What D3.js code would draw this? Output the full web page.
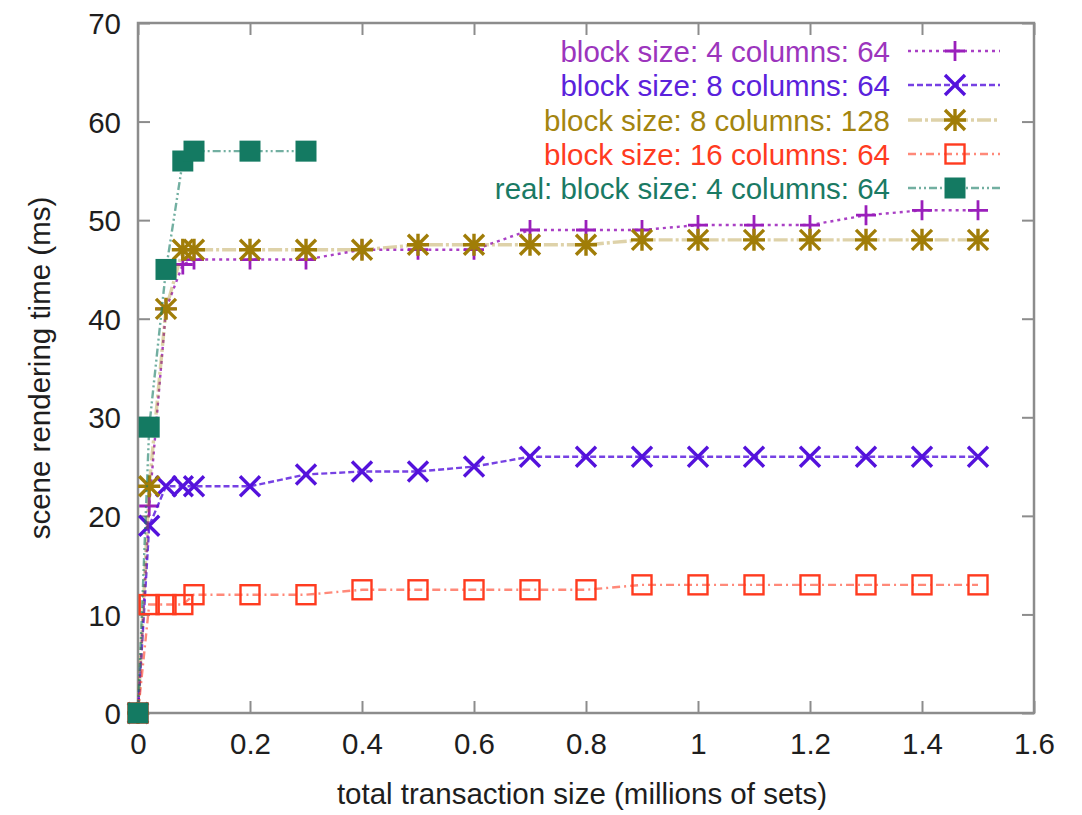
<!DOCTYPE html>
<html>
<head>
<meta charset="utf-8">
<script src="https://cdn.jsdelivr.net/npm/d3@7"></script>
<style>
  html, body { margin: 0; padding: 0; background: #fff; }
  svg text { font-family: "Liberation Sans", Arial, Helvetica, sans-serif; }
</style>
</head>
<body>
<svg id="chart" width="1082" height="815"></svg>
<script>
// Transaction sizes (millions of sets) at which each configuration was measured
const sizesFull = [0, 0.02, 0.05, 0.08, 0.1, 0.2, 0.3, 0.4, 0.5, 0.6, 0.7, 0.8, 0.9, 1.0, 1.1, 1.2, 1.3, 1.4, 1.5];
const sizesReal = [0, 0.02, 0.05, 0.08, 0.1, 0.2, 0.3];

// Scene rendering time (ms)
const block4col64  = [0, 21, 41, 45.5, 46, 46, 46, 47, 47, 47, 49, 49, 49, 49.5, 49.5, 49.5, 50.5, 51, 51];
const block8col64  = [0, 19, 23, 23, 23, 23, 24.2, 24.5, 24.5, 25, 26, 26, 26, 26, 26, 26, 26, 26, 26];
const block8col128 = [0, 23, 41, 47, 47, 47, 47, 47, 47.5, 47.5, 47.5, 47.5, 48, 48, 48, 48, 48, 48, 48];
const block16col64 = [0, 11, 11, 11, 12, 12, 12, 12.5, 12.5, 12.5, 12.5, 12.5, 13, 13, 13, 13, 13, 13, 13];
const realBlock4col64 = [0, 29, 45, 56, 57, 57, 57];

const seriesNames = [
  "block size: 4 columns: 64",
  "block size: 8 columns: 64",
  "block size: 8 columns: 128",
  "block size: 16 columns: 64",
  "real: block size: 4 columns: 64"
];

const xTicks = [0, 0.2, 0.4, 0.6, 0.8, 1, 1.2, 1.4, 1.6];
const yTicks = [0, 10, 20, 30, 40, 50, 60, 70];

const xTitle = "total transaction size (millions of sets)";
const yTitle = "scene rendering time (ms)";

// Visual styling per series
const styles = [
  { color: "#9a1fbb", text: "#9c35bd", dash: "3,4",         marker: "plus",    lineWidth: 2.4, lineOpacity: 0.85 },
  { color: "#5412dc", text: "#5a22dc", dash: "6,3",         marker: "cross",   lineWidth: 2.4, lineOpacity: 0.8 },
  { color: "#a07d08", text: "#a4850f", dash: "14,3,3,3",    marker: "star",    lineWidth: 3.4, lineOpacity: 0.35 },
  { color: "#ff3b1f", text: "#ff3b1f", dash: "8,4,2,4",     marker: "square",  lineWidth: 2.4, lineOpacity: 0.6 },
  { color: "#147a62", text: "#1a7a64", dash: "8,3,2,3,2,3", marker: "fsquare", lineWidth: 2.4, lineOpacity: 0.6 }
];

const seriesData = [
  { xs: sizesFull, ys: block4col64 },
  { xs: sizesFull, ys: block8col64 },
  { xs: sizesFull, ys: block8col128 },
  { xs: sizesFull, ys: block16col64 },
  { xs: sizesReal, ys: realBlock4col64 }
];

const svg = d3.select("#chart");
const plot = { left: 138, right: 1034, top: 23, bottom: 713 };

const x = d3.scaleLinear().domain([0, 1.6]).range([plot.left, plot.right]);
const y = d3.scaleLinear().domain([0, 70]).range([plot.bottom, plot.top]);

const axisColor = "#8c8c8c";
const textColor = "#1e1e1e";
const fontSize = 29.5;
const tickLen = 12;

// Axes: ticks point inward and are mirrored on the opposite side
const gx = svg.append("g").attr("transform", `translate(0,${plot.bottom})`)
  .call(d3.axisBottom(x).tickValues(xTicks).tickSize(-tickLen).tickPadding(0).tickFormat(d3.format("")));
const gxTop = svg.append("g").attr("transform", `translate(0,${plot.top})`)
  .call(d3.axisTop(x).tickValues(xTicks).tickSize(-tickLen).tickFormat(""));
const gy = svg.append("g").attr("transform", `translate(${plot.left},0)`)
  .call(d3.axisLeft(y).tickValues(yTicks).tickSize(-tickLen).tickPadding(0));
const gyRight = svg.append("g").attr("transform", `translate(${plot.right},0)`)
  .call(d3.axisRight(y).tickValues(yTicks).tickSize(-tickLen).tickFormat(""));

[gx, gxTop, gy, gyRight].forEach(g => {
  g.select(".domain").remove();
  g.selectAll(".tick line").attr("stroke", axisColor).attr("stroke-width", 2);
});

gx.selectAll(".tick text")
  .attr("y", 0).attr("dy", null)
  .attr("transform", "translate(0,41)")
  .attr("font-size", fontSize).attr("fill", textColor);
gy.selectAll(".tick text")
  .attr("x", -17).attr("dy", "0.36em")
  .attr("font-size", fontSize).attr("fill", textColor);

// Plot frame
svg.append("rect")
  .attr("x", plot.left).attr("y", plot.top)
  .attr("width", plot.right - plot.left).attr("height", plot.bottom - plot.top)
  .attr("fill", "none").attr("stroke", axisColor).attr("stroke-width", 2.5);

// Axis titles
svg.append("text")
  .attr("x", (plot.left + plot.right) / 2 - 4).attr("y", 804)
  .attr("text-anchor", "middle").attr("font-size", fontSize).attr("fill", textColor)
  .text(xTitle);
svg.append("text")
  .attr("transform", `translate(50,${(plot.top + plot.bottom) / 2}) rotate(-90)`)
  .attr("text-anchor", "middle").attr("font-size", fontSize).attr("fill", textColor)
  .text(yTitle);

// Marker drawing
function drawMarker(g, kind, cx, cy, color) {
  const m = g.append("g").attr("transform", `translate(${cx},${cy})`);
  if (kind === "plus") {
    const r = 10;
    m.append("path").attr("d", `M${-r},0H${r}M0,${-r}V${r}`)
      .attr("stroke", color).attr("stroke-width", 2.8).attr("fill", "none");
  } else if (kind === "cross") {
    const r = 10;
    m.append("path").attr("d", `M${-r},${-r}L${r},${r}M${-r},${r}L${r},${-r}`)
      .attr("stroke", color).attr("stroke-width", 3.4).attr("fill", "none");
  } else if (kind === "star") {
    const r = 10;
    m.append("path").attr("d", `M${-r},${-r}L${r},${r}M${-r},${r}L${r},${-r}M${-r - 1},0H${r + 1}M0,${-r - 1}V${r + 1}`)
      .attr("stroke", color).attr("stroke-width", 3.4).attr("fill", "none");
  } else if (kind === "square") {
    const r = 9.5;
    m.append("rect").attr("x", -r).attr("y", -r).attr("width", 2 * r).attr("height", 2 * r)
      .attr("stroke", color).attr("stroke-width", 2.4).attr("fill", "none");
  } else if (kind === "fsquare") {
    const r = 10.5;
    m.append("rect").attr("x", -r).attr("y", -r).attr("width", 2 * r).attr("height", 2 * r)
      .attr("fill", color);
  }
}

const line = d3.line().x(d => x(d[0])).y(d => y(d[1]));
const dataLayer = svg.append("g");

seriesData.forEach((s, i) => {
  const st = styles[i];
  const pts = s.xs.map((v, k) => [v, s.ys[k]]);
  const g = dataLayer.append("g");
  g.append("path").datum(pts).attr("d", line)
    .attr("fill", "none").attr("stroke", st.color).attr("stroke-width", st.lineWidth)
    .attr("stroke-opacity", st.lineOpacity).attr("stroke-dasharray", st.dash);
  pts.forEach(p => drawMarker(g, st.marker, x(p[0]), y(p[1]), st.color));
});

// Legend (top right, inside the frame)
const legendRows = [51, 85, 120, 154, 188];
const legend = svg.append("g");
seriesNames.forEach((name, i) => {
  const st = styles[i];
  const ry = legendRows[i];
  legend.append("text")
    .attr("x", 890).attr("y", ry).attr("dy", "0.36em")
    .attr("text-anchor", "end").attr("font-size", fontSize).attr("fill", st.text)
    .text(name);
  legend.append("line")
    .attr("x1", 908).attr("x2", 1000).attr("y1", ry).attr("y2", ry)
    .attr("stroke", st.color).attr("stroke-width", st.lineWidth)
    .attr("stroke-opacity", st.lineOpacity).attr("stroke-dasharray", st.dash);
  drawMarker(legend, st.marker, 955, ry, st.color);
});
</script>
</body>
</html>
